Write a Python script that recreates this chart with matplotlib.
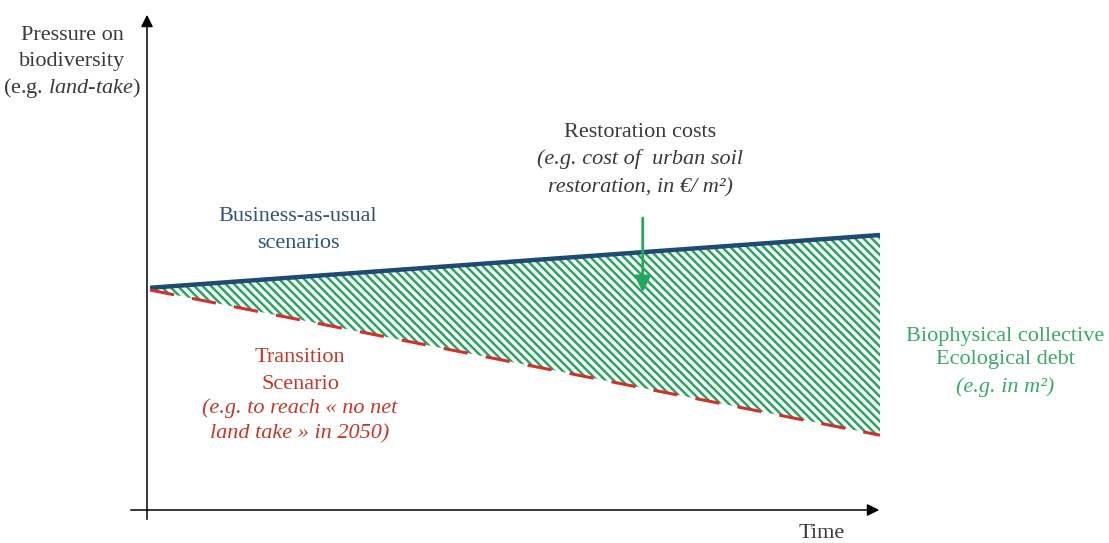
import matplotlib
matplotlib.use("Agg")
import numpy as np
from matplotlib import pyplot as plt

# Conceptual chart: pressure on biodiversity over time (arbitrary units)
time = [0.0, 1.0]
bau_pressure = [101, 125]          # business-as-usual scenarios
transition_pressure = [100, 34]    # transition scenario (no net land take)
cost_arrow_time = 0.675
cost_arrow_top = 134

BLUE = "#1f4a76"
RED = "#d0312d"
GREEN = "#26a55e"
GREEN_TXT = "#3aa96b"
GREY = "#3a3a3a"

plt.rcParams['font.family'] = ['Liberation Serif', 'DejaVu Serif']
plt.rcParams['mathtext.fontset'] = 'custom'
plt.rcParams['mathtext.rm'] = 'Liberation Serif'
plt.rcParams['mathtext.it'] = 'Liberation Serif:italic'
plt.rcParams['hatch.linewidth'] = 1.8

W, H = 1109, 543
fig = plt.figure(figsize=(W / 100, H / 100), dpi=100)
ax = fig.add_axes([0, 0, 1, 1])

# pixel -> data mapping (t=0 at x=150px, t=1 at x=880px; p=0 at y=510px, 2.2px per unit)
X0, XS = 150, 730
Y0, YS = 510, 2.2
ax.set_xlim((0 - X0) / XS, (W - X0) / XS)
ax.set_ylim((Y0 - H) / YS, Y0 / YS)
ax.axis('off')


def px(x, y):
    return (x - X0) / XS, (Y0 - y) / YS


def lines(x, baselines, texts, **kw):
    for y, s in zip(baselines, texts):
        ax.text(*px(x, y), s, ha='center', va='baseline', fontsize=fs, **kw)


# axes arrows
ax.annotate('', xy=px(147, 12), xytext=px(147, 522),
            arrowprops=dict(arrowstyle='-|>', color='black', lw=1.1, mutation_scale=18))
ax.annotate('', xy=px(882, 510), xytext=px(128, 510),
            arrowprops=dict(arrowstyle='-|>', color='black', lw=1.1, mutation_scale=18))

# ecological debt area
ax.fill_between(time, transition_pressure, bau_pressure, facecolor='none',
                edgecolor=GREEN, hatch='\\' * 4, linewidth=0, zorder=1)
ax.plot(time, bau_pressure, color=BLUE, lw=3.2, solid_capstyle='butt', zorder=3)
ax.plot(time, transition_pressure, color=RED, lw=2.2, dashes=(8, 6), zorder=3)

# restoration cost arrow
bau_at = np.interp(cost_arrow_time, time, bau_pressure)
ax.annotate('', xy=(cost_arrow_time, bau_at - 19.5), xytext=(cost_arrow_time, cost_arrow_top),
            arrowprops=dict(arrowstyle='-|>', color=GREEN, lw=2.0, mutation_scale=24), zorder=4)

fs = 16
lines(72, [40, 66], ["Pressure on", "biodiversity"], color=GREY)
lines(72, [93], [r"(e.g. $\mathit{land}$-$\mathit{take}$)"], color=GREY)

lines(640, [137], ["Restoration costs"], color=GREY)
lines(640, [164, 192], ["(e.g. cost of  urban soil", "restoration, in €/ m²)"],
      color=GREY, style='italic')

lines(298, [221, 248], ["Business-as-usual", "scenarios"], color="#2e5479")

lines(300, [362, 389], ["Transition", "Scenario"], color="#c0392b")
lines(300, [413, 438], ["(e.g. to reach « no net", "land take » in 2050)"],
      color="#c0392b", style='italic')

lines(1005, [341, 364], ["Biophysical collective", "Ecological debt"], color=GREEN_TXT)
lines(1005, [392], ["(e.g. in m²)"], color=GREEN_TXT, style='italic')

lines(822, [538], ["Time"], color=GREY)

fig.savefig("out.png", dpi=100)
